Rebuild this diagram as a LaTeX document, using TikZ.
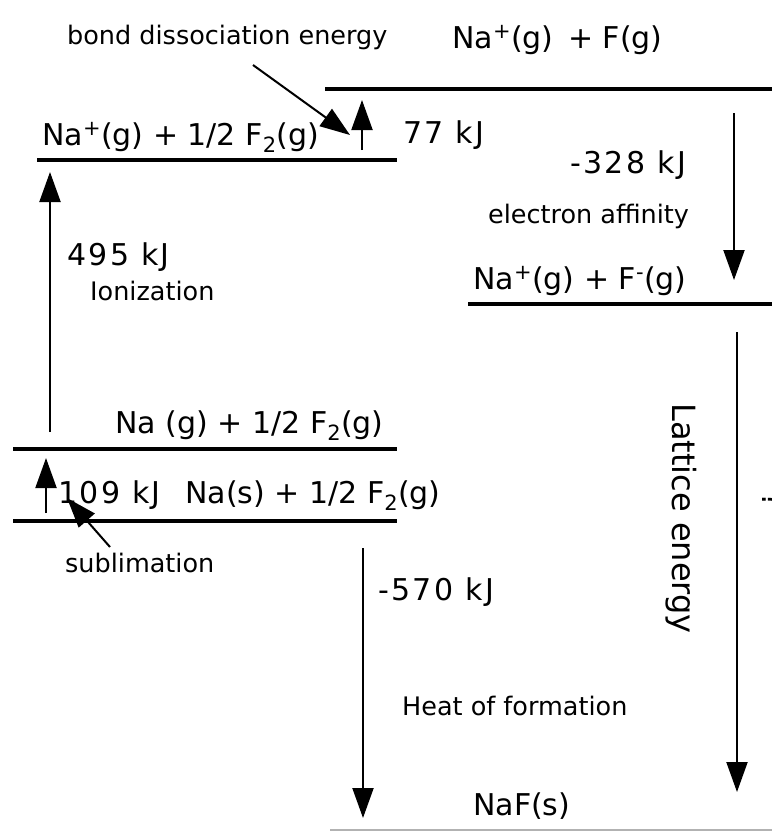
\documentclass[tikz,border=0pt]{standalone}
\usepackage{fontspec}
\setmainfont{DejaVu Sans}
\usetikzlibrary{arrows.meta}
\begin{document}
\begin{tikzpicture}[x=1pt,y=-1pt,
  lvl/.style={line width=4.5pt},
  big/.style={font=\fontsize{30}{36}\selectfont, inner sep=0pt, anchor=base west},
  kj/.style={font=\fontsize{30}{36}\selectfont\addfontfeature{LetterSpace=8}, inner sep=0pt, anchor=base west},
  small/.style={font=\fontsize{25.5}{30}\selectfont, inner sep=0pt, anchor=base west},
  arr/.style={line width=2pt, -{Triangle[width=21pt,length=30pt]}},
]
\useasboundingbox (0,0) rectangle (772,831);

% energy levels
\draw[lvl] (325,89) -- (772,89);
\draw[lvl] (37,160) -- (397,160);
\draw[lvl] (468,304) -- (772,304);
\draw[lvl] (13,449) -- (397,449);
\draw[lvl] (13,521) -- (397,521);
\draw[gray!60, line width=1.5pt] (330,830) -- (772,830);

% arrow end points
\coordinate (bdS) at (362,150); \coordinate (bdE) at (362,100);
\coordinate (bpS) at (253,65);  \coordinate (bpE) at (350,135);
\coordinate (ioS) at (50,432);  \coordinate (ioE) at (50,172);
\coordinate (suS) at (46,513);  \coordinate (suE) at (46,458);
\coordinate (spS) at (110,547); \coordinate (spE) at (67,498);
\coordinate (eaS) at (734,113); \coordinate (eaE) at (734,280);
\coordinate (laS) at (737,332); \coordinate (laE) at (737,792);
\coordinate (hfS) at (363,548); \coordinate (hfE) at (363,818);

\draw[arr] (bdS) -- (bdE);
\draw[arr] (bpS) -- (bpE);
\draw[arr] (ioS) -- (ioE);
\draw[arr] (suS) -- (suE);
\draw[arr] (spS) -- (spE);
\draw[arr] (eaS) -- (eaE);
\draw[arr] (laS) -- (laE);
\draw[arr] (hfS) -- (hfE);

% labels
\node[small] (tbd) at (67,44) {bond dissociation energy};
\node[big] (t1) at (452,48) {Na\textsuperscript{+}(g)\, + F(g)};
\node[big] (t2) at (42,145) {Na\textsuperscript{+}(g) + 1/2 F\textsubscript{2}(g)};
\node[kj] (t77) at (403,143) {77 kJ};
\node[kj] (t328) at (570,173) {-328 kJ};
\node[small] (tea) at (488,223) {electron affinity};
\node[big] (t3) at (473,289) {Na\textsuperscript{+}(g) + F\textsuperscript{-}(g)};
\node[kj] (t495) at (67,265) {495 kJ};
\node[small] (tio) at (90,300) {Ionization};
\node[big] (t4) at (115,433) {Na (g) + 1/2 F\textsubscript{2}(g)};
\node[kj] (t109) at (58,503) {109 kJ};
\node[big] (t5) at (185,503) {Na(s) + 1/2 F\textsubscript{2}(g)};
\node[small] (tsu) at (65,572) {sublimation};
\node[kj] (t570) at (378,600) {-570 kJ};
\node[small] (thf) at (402,715) {Heat of formation};
\node[big] (t6) at (473,815) {NaF(s)};
\node[font=\fontsize{32}{38}\selectfont, inner sep=0pt, anchor=base west, rotate=-90] (tle) at (672,403) {Lattice energy};
\node[big, rotate=-90] (tq) at (762,492) {?};
\end{tikzpicture}
\end{document}
